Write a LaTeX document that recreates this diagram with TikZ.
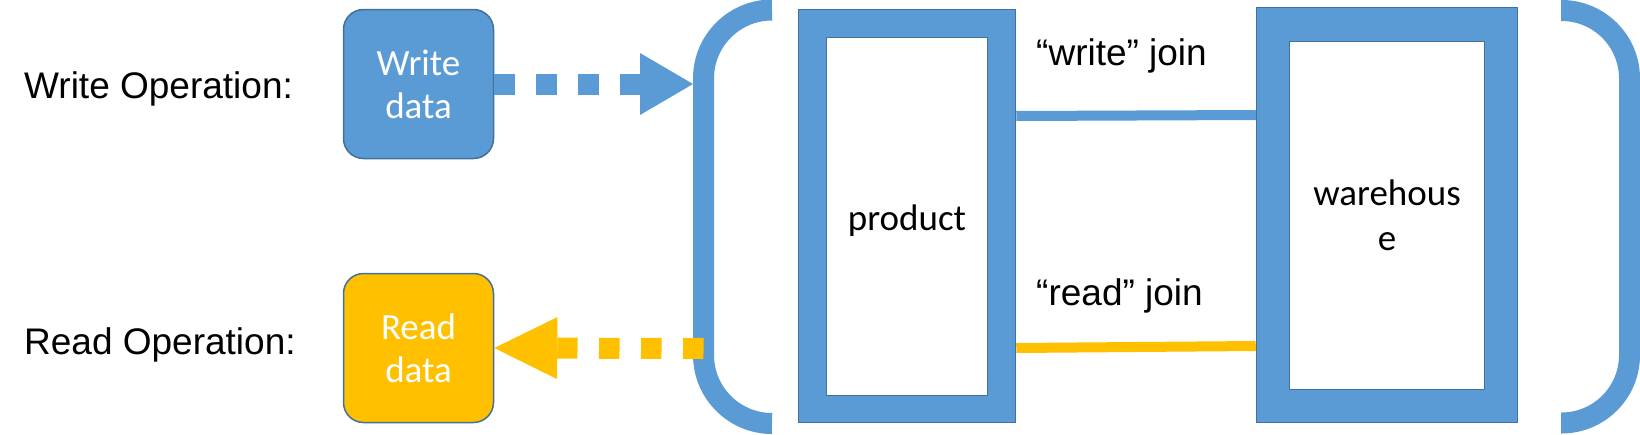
\documentclass[tikz,border=0pt]{standalone}
\usepackage{fontspec}
\setmainfont{Liberation Sans}
\newfontfamily\calib{Carlito}
\usetikzlibrary{arrows.meta}
\definecolor{blu}{HTML}{5B9BD5}
\definecolor{bdr}{HTML}{41719C}
\definecolor{yel}{HTML}{FFC000}
\begin{document}
\begin{tikzpicture}[x=1pt,y=-1pt,
  lbl/.style={anchor=base west,inner sep=0pt,font=\fontsize{37}{43}\selectfont},
  opbox/.style={rectangle,rounded corners=20pt,draw=bdr,line width=1.5pt,minimum width=150pt,minimum height=149pt,inner sep=0pt,text=white,align=center,font=\calib\fontsize{37}{43}\selectfont},
  touter/.style={rectangle,draw=bdr,fill=blu,line width=1.5pt,inner sep=0pt},
  tinner/.style={rectangle,draw=bdr,fill=white,line width=1.5pt,inner sep=0pt,align=center,font=\calib\fontsize{37}{45}\selectfont},
  ttext/.style={anchor=base,inner sep=0pt,font=\calib\fontsize{37}{45}\selectfont},
  bracket/.style={draw=blu,line width=21pt},
  wjoin/.style={draw=blu,line width=10pt},
  rjoin/.style={draw=yel,line width=10pt},
  warrow/.style={draw=blu,line width=21pt,dash pattern=on 21pt off 21pt,-{Triangle[length=53pt,width=62pt,line width=0pt]}},
  rarrow/.style={draw=yel,line width=21pt,dash pattern=on 20.5pt off 21.5pt,-{Triangle[length=63pt,width=62pt,line width=0pt]}},
]
\useasboundingbox (0,0) rectangle (1640,434);
\fill[white] (0,0) rectangle (1640,434);

% labels
\node[lbl] (wlab) at (24,98) {Write Operation:};
\node[lbl] (rlab) at (24,354) {Read Operation:};

% operation boxes
\node[opbox,fill=blu] (wd) at (418.5,84) {Write\\data};
\node[opbox,fill=yel] (rd) at (418.5,348) {Read\\data};

% tables
\node[touter,minimum width=217pt,minimum height=413pt] (prodo) at (907,216) {};
\node[tinner,minimum width=161pt,minimum height=358pt] (prod) at (907,216.5) {};
\node[ttext] (prodt) at (907,230) {product};
\node[touter,minimum width=261pt,minimum height=415pt] (wareo) at (1387,215) {};
\node[tinner,minimum width=195pt,minimum height=348pt] (ware) at (1387,215.5) {warehous\\e};

% join labels
\node[lbl] (wjl) at (1036,65) {“write” join};
\node[lbl] (rjl) at (1036,305) {“read” join};

% joins
\coordinate (wjy1) at (0,116);
\coordinate (wjy2) at (0,115);
\coordinate (rjy1) at (0,348);
\coordinate (rjy2) at (0,346);
\draw[wjoin] (prodo.east |- wjy1) -- (wareo.west |- wjy2);
\draw[rjoin] (prodo.east |- rjy1) -- (wareo.west |- rjy2);

% brackets
\draw[bracket,rounded corners=68.5pt] (772,10) -- (703.5,10) -- (703.5,423.5) -- (772,423.5);
\draw[bracket,rounded corners=68pt] (1561,10.5) -- (1629.5,10.5) -- (1629.5,423) -- (1561,423);

% arrows
\coordinate (wtip) at (693,84);
\coordinate (rstart) at (703.5,348.5);
\draw[warrow] (wd.east) -- (wtip);
\draw[rarrow] (rstart) -- (rd.east);
\end{tikzpicture}
\end{document}
